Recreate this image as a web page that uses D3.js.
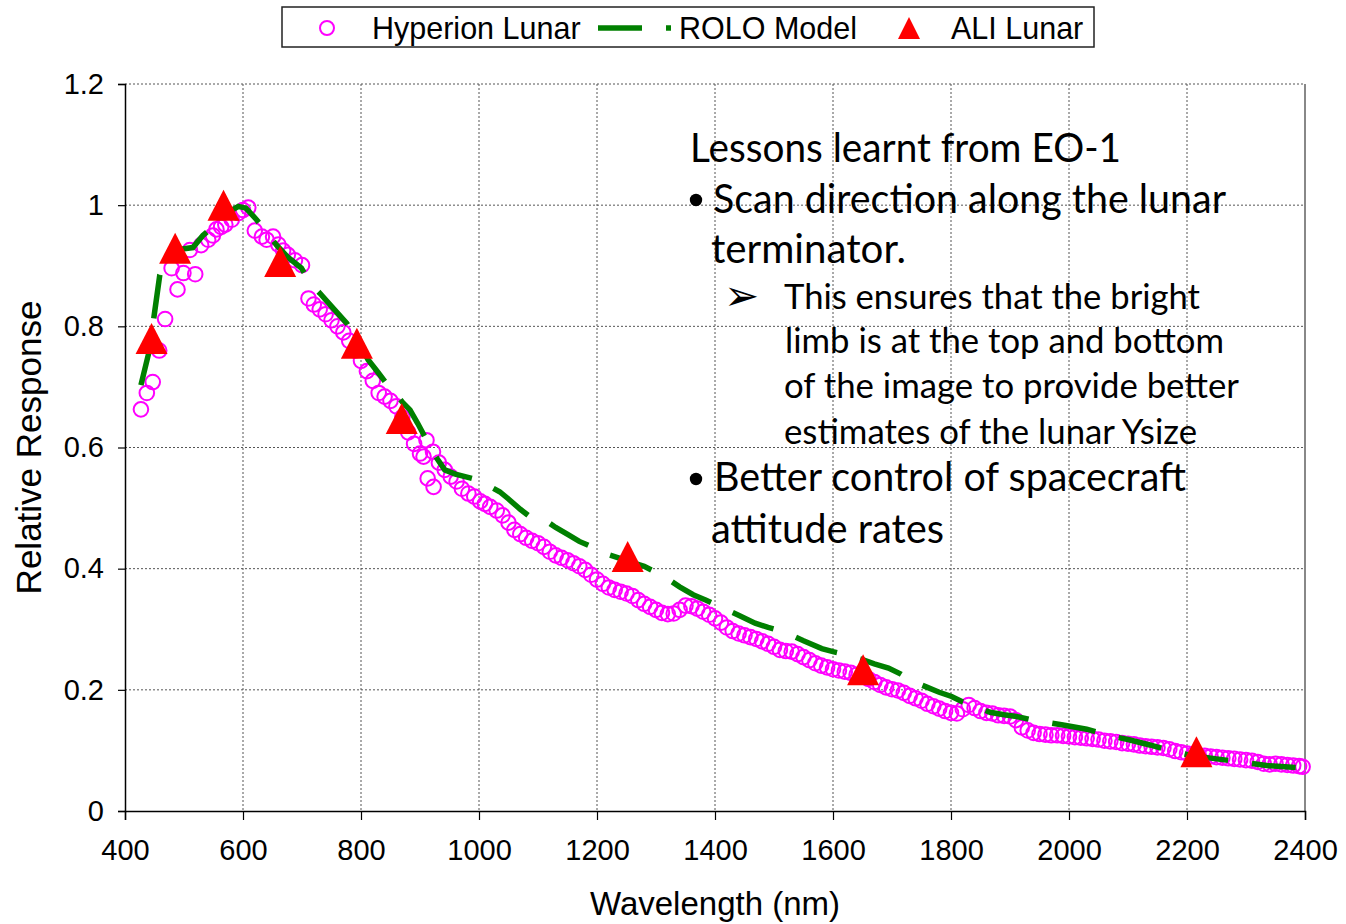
<!DOCTYPE html>
<html>
<head>
<meta charset="utf-8">
<script src="https://cdn.jsdelivr.net/npm/d3@7"></script>
<style>
  body { margin: 0; background: #fff; }
  svg { display: block; }
  text { font-family: "Liberation Sans", Arial, sans-serif; fill: #000; }
  text.note { font-family: Lato, "Open Sans", sans-serif; }
  text.arrow { font-family: "DejaVu Sans", sans-serif; }
</style>
</head>
<body>
<svg id="chart" width="1346" height="924"></svg>
<script>
// Hyperion lunar response (wavelength nm, relative response).
const hyperionWl = [
  427, 437, 447, 458, 468, 479, 489, 499, 510, 519, 529, 541, 549, 555, 563, 570, 581, 592, 600, 609,
  620, 632, 640, 651, 660, 668, 676, 688, 700, 711, 720, 730, 740, 750, 760, 770, 780, 790, 800, 810,
  820, 830, 840, 850, 860, 870, 880, 890, 900, 906, 911, 913, 922, 923, 932, 942, 952, 962, 971, 982,
  992, 1002, 1010, 1019, 1030, 1040, 1050, 1060, 1070, 1080, 1090, 1100, 1110, 1120, 1130, 1140, 1150, 1160, 1170, 1180,
  1190, 1200, 1210, 1220, 1230, 1240, 1250, 1260, 1270, 1280, 1290, 1300, 1310, 1320, 1330, 1340, 1350, 1360, 1370, 1380,
  1390, 1400, 1410, 1420, 1430, 1440, 1450, 1460, 1470, 1480, 1490, 1500, 1510, 1520, 1530, 1540, 1550, 1560, 1570, 1580,
  1590, 1600, 1610, 1620, 1630, 1640, 1650, 1660, 1670, 1680, 1690, 1700, 1710, 1720, 1730, 1740, 1750, 1760, 1770, 1780,
  1790, 1800, 1810, 1820, 1830, 1840, 1850, 1860, 1870, 1880, 1890, 1900, 1910, 1920, 1930, 1940, 1950, 1960, 1970, 1980,
  1990, 2000, 2010, 2020, 2030, 2040, 2050, 2060, 2070, 2080, 2090, 2100, 2110, 2120, 2130, 2140, 2150, 2160, 2170, 2180,
  2190, 2200, 2210, 2220, 2230, 2240, 2250, 2260, 2270, 2280, 2290, 2300, 2310, 2320, 2330, 2340, 2350, 2360, 2370, 2380,
  2390, 2396
];
const hyperionVal = [
  0.663, 0.690, 0.708, 0.760, 0.812, 0.896, 0.861, 0.888, 0.926, 0.886, 0.934, 0.943, 0.950, 0.960, 0.964, 0.968, 0.976, 0.987, 0.992, 0.996,
  0.958, 0.948, 0.943, 0.948, 0.935, 0.925, 0.918, 0.909, 0.901, 0.846, 0.836, 0.828, 0.820, 0.810, 0.800, 0.790, 0.776, 0.760, 0.743, 0.726,
  0.710, 0.690, 0.684, 0.677, 0.668, 0.650, 0.625, 0.606, 0.590, 0.585, 0.612, 0.549, 0.593, 0.535, 0.575, 0.563, 0.552, 0.544, 0.532, 0.524,
  0.519, 0.511, 0.507, 0.502, 0.496, 0.488, 0.476, 0.464, 0.457, 0.451, 0.446, 0.442, 0.436, 0.428, 0.422, 0.418, 0.414, 0.409, 0.404, 0.398,
  0.390, 0.382, 0.375, 0.369, 0.365, 0.362, 0.359, 0.355, 0.348, 0.342, 0.337, 0.332, 0.327, 0.325, 0.326, 0.332, 0.339, 0.338, 0.334, 0.329,
  0.324, 0.318, 0.311, 0.303, 0.297, 0.293, 0.290, 0.287, 0.284, 0.280, 0.276, 0.271, 0.266, 0.264, 0.263, 0.259, 0.254, 0.249, 0.244, 0.240,
  0.237, 0.234, 0.232, 0.230, 0.228, 0.225, 0.222, 0.218, 0.213, 0.208, 0.204, 0.201, 0.199, 0.195, 0.190, 0.186, 0.182, 0.177, 0.173, 0.169,
  0.165, 0.162, 0.161, 0.168, 0.175, 0.170, 0.165, 0.162, 0.161, 0.158, 0.157, 0.156, 0.150, 0.138, 0.133, 0.129, 0.127, 0.126, 0.125, 0.125,
  0.124, 0.123, 0.122, 0.121, 0.120, 0.119, 0.118, 0.116, 0.115, 0.114, 0.112, 0.111, 0.110, 0.108, 0.107, 0.106, 0.105, 0.104, 0.102, 0.099,
  0.097, 0.095, 0.093, 0.092, 0.091, 0.090, 0.089, 0.088, 0.087, 0.086, 0.085, 0.084, 0.083, 0.081, 0.078, 0.077, 0.078, 0.077, 0.076, 0.075,
  0.074, 0.073
];

// ROLO model curve
const roloWl = [
  427, 440, 449, 459, 470, 485, 500, 515, 532, 550, 570, 592, 605, 623, 640, 657, 675, 699, 715, 730,
  750, 776, 795, 812, 828, 843, 860, 870, 883, 896, 908, 920, 930, 942, 960, 988, 1002, 1020, 1035, 1050,
  1070, 1086, 1100, 1115, 1130, 1151, 1170, 1191, 1205, 1220, 1239, 1260, 1280, 1298, 1320, 1340, 1363, 1385, 1403, 1420,
  1440, 1468, 1490, 1513, 1530, 1550, 1581, 1600, 1623, 1650, 1670, 1694, 1715, 1733, 1760, 1780, 1801, 1820, 1849, 1866,
  1890, 1911, 1935, 1959, 1990, 2030, 2070, 2100, 2137, 2170, 2205, 2250, 2290, 2335, 2396
];
const roloVal = [
  0.703, 0.755, 0.815, 0.885, 0.910, 0.925, 0.928, 0.930, 0.950, 0.965, 0.985, 0.998, 0.995, 0.976, 0.955, 0.934, 0.915, 0.896, 0.870, 0.855,
  0.833, 0.805, 0.775, 0.745, 0.725, 0.706, 0.688, 0.675, 0.662, 0.640, 0.618, 0.596, 0.580, 0.563, 0.556, 0.549, 0.546, 0.535, 0.527, 0.515,
  0.498, 0.486, 0.484, 0.478, 0.468, 0.456, 0.445, 0.436, 0.428, 0.423, 0.417, 0.410, 0.404, 0.395, 0.383, 0.370, 0.357, 0.348, 0.340, 0.332,
  0.323, 0.310, 0.303, 0.297, 0.290, 0.281, 0.268, 0.263, 0.258, 0.250, 0.243, 0.236, 0.226, 0.215, 0.204, 0.196, 0.189, 0.180, 0.170, 0.163,
  0.159, 0.156, 0.151, 0.147, 0.142, 0.135, 0.124, 0.118, 0.109, 0.100, 0.092, 0.086, 0.081, 0.075, 0.071
];

// ALI lunar band responses
const aliWl = [445, 485, 567, 663, 793, 869, 1252, 1651, 2216];
const aliVal = [0.780, 0.929, 1.000, 0.907, 0.772, 0.648, 0.420, 0.233, 0.098];

const xTicks = [400, 600, 800, 1000, 1200, 1400, 1600, 1800, 2000, 2200, 2400];
const yTicks = [0, 0.2, 0.4, 0.6, 0.8, 1, 1.2];
const seriesNames = ['Hyperion Lunar', 'ROLO Model', 'ALI Lunar'];
const xTitle = 'Wavelength (nm)';
const yTitle = 'Relative Response';

const noteTitle = 'Lessons learnt from EO-1';
const noteBullets = ['Scan direction along the lunar', 'terminator.',
                     'Better control of spacecraft', 'attitude rates'];
const noteSubLines = ['This ensures that the bright', 'limb is at the top and bottom',
                      'of the image to provide better', 'estimates of the lunar Ysize'];

const magenta = '#ff00ff';
const green = '#008000';
const red = '#ff0000';
const roloDash = '44,24';

let svg = d3.select('#chart');
let plot = {left: 125, right: 1305, top: 84, bottom: 811};

let x = d3.scaleLinear().domain([400, 2400]).range([plot.left, plot.right]);
let y = d3.scaleLinear().domain([0, 1.2]).range([plot.bottom, plot.top]);

let trianglePath = function(w, h) {
  return 'M0,' + (-h / 2) + 'L' + (w / 2) + ',' + (h / 2) + 'L' + (-w / 2) + ',' + (h / 2) + 'Z';
};

// Gridlines (dotted)
let grid = svg.append('g').attr('class', 'grid');
grid.selectAll('line.v')
    .data(xTicks.slice(1))
    .join('line')
    .attr('class', 'v')
    .attr('x1', d => x(d)).attr('x2', d => x(d))
    .attr('y1', y(1.2)).attr('y2', y(0))
    .attr('stroke', '#555')
    .attr('stroke-width', 1)
    .attr('stroke-dasharray', '2,2');
grid.selectAll('line.h')
    .data(yTicks.slice(1))
    .join('line')
    .attr('class', 'h')
    .attr('x1', x(400)).attr('x2', x(2400))
    .attr('y1', d => y(d)).attr('y2', d => y(d))
    .attr('stroke', '#555')
    .attr('stroke-width', 1)
    .attr('stroke-dasharray', '2,2');

// right border of the plot area
svg.append('line')
    .attr('x1', x(2400)).attr('x2', x(2400))
    .attr('y1', y(1.2)).attr('y2', y(0))
    .attr('stroke', '#888')
    .attr('stroke-width', 2);

// Axes
let xAxis = d3.axisBottom(x).tickValues(xTicks).tickSize(9).tickPadding(19)
    .tickFormat(d3.format('d'));
let yAxis = d3.axisLeft(y).tickValues(yTicks).tickSize(7).tickPadding(14)
    .tickFormat(d => d3.format('')(d));

let gx = svg.append('g')
    .attr('transform', 'translate(0,' + plot.bottom + ')')
    .call(xAxis);
let gy = svg.append('g')
    .attr('transform', 'translate(' + plot.left + ',0)')
    .call(yAxis);
[gx, gy].forEach(g => {
  g.select('.domain').attr('stroke', '#000').attr('stroke-width', 1.5);
  g.selectAll('.tick line').attr('stroke', '#000').attr('stroke-width', 1.2);
  g.selectAll('.tick text')
      .attr('font-size', 29)
      .attr('fill', '#000');
});

// Axis titles
svg.append('text')
    .attr('x', (plot.left + plot.right) / 2)
    .attr('y', 915)
    .attr('text-anchor', 'middle')
    .attr('font-size', 33)
    .text(xTitle);
svg.append('text')
    .attr('transform', 'translate(41,' + (plot.top + plot.bottom) / 2 + ') rotate(-90)')
    .attr('text-anchor', 'middle')
    .attr('font-size', 35)
    .text(yTitle);

// Hyperion circles
let hyperion = hyperionWl.map((w, i) => ({w: w, v: hyperionVal[i]}));
svg.append('g')
    .selectAll('circle')
    .data(hyperion)
    .join('circle')
    .attr('cx', d => x(d.w))
    .attr('cy', d => y(d.v))
    .attr('r', 7.3)
    .attr('fill', 'none')
    .attr('stroke', magenta)
    .attr('stroke-width', 2);

// ROLO model (long dash line)
let rolo = roloWl.map((w, i) => ({w: w, v: roloVal[i]}));
let line = d3.line().x(d => x(d.w)).y(d => y(d.v));
svg.append('path')
    .datum(rolo)
    .attr('d', line)
    .attr('fill', 'none')
    .attr('stroke', green)
    .attr('stroke-width', 5.5)
    .attr('stroke-dasharray', roloDash);

// ALI triangles
let ali = aliWl.map((w, i) => ({w: w, v: aliVal[i]}));
svg.append('g')
    .selectAll('path')
    .data(ali)
    .join('path')
    .attr('transform', d => 'translate(' + x(d.w) + ',' + y(d.v) + ')')
    .attr('d', trianglePath(32, 31))
    .attr('fill', red);

// Legend
let legend = svg.append('g').attr('class', 'legend');
legend.append('rect')
    .attr('x', 282).attr('y', 7)
    .attr('width', 812).attr('height', 40)
    .attr('fill', '#fff')
    .attr('stroke', '#222')
    .attr('stroke-width', 1.5);
legend.append('circle')
    .attr('cx', 327).attr('cy', 28).attr('r', 7)
    .attr('fill', 'none').attr('stroke', magenta).attr('stroke-width', 2);
legend.append('line')
    .attr('x1', 598).attr('x2', 671).attr('y1', 28).attr('y2', 28)
    .attr('stroke', green).attr('stroke-width', 5.5)
    .attr('stroke-dasharray', roloDash);
legend.append('path')
    .attr('transform', 'translate(909,28)')
    .attr('d', trianglePath(22, 22))
    .attr('fill', red);
let legendX = [372, 679, 951];
legend.selectAll('text')
    .data(seriesNames)
    .join('text')
    .attr('x', (d, i) => legendX[i])
    .attr('y', 39)
    .attr('font-size', 30.5)
    .text(d => d);

// Text block
let notes = svg.append('g').attr('class', 'notes');
let addNote = function(str, xPos, yPos, size, len) {
  notes.append('text')
      .attr('class', 'note')
      .attr('x', xPos)
      .attr('y', yPos)
      .attr('font-size', size)
      .attr('textLength', len)
      .attr('lengthAdjust', 'spacingAndGlyphs')
      .text(str);
};
addNote(noteTitle, 690, 162, 41, 431);
addNote(noteBullets[0], 713, 213, 41, 513);
addNote(noteBullets[1], 711, 263, 41, 195);
addNote(noteBullets[2], 714, 491, 41, 472);
addNote(noteBullets[3], 711, 543, 41, 233);
addNote(noteSubLines[0], 784, 309, 34, 416);
addNote(noteSubLines[1], 785, 353, 34, 439);
addNote(noteSubLines[2], 784, 398, 34, 455);
addNote(noteSubLines[3], 784, 444, 34, 413);
[200, 479].forEach(cy => {
  notes.append('circle').attr('cx', 696).attr('cy', cy).attr('r', 6.2).attr('fill', '#000');
});
notes.append('text')
    .attr('class', 'arrow')
    .attr('x', 724).attr('y', 310)
    .attr('font-size', 42)
    .text('\u27A2');
</script>
</body>
</html>
